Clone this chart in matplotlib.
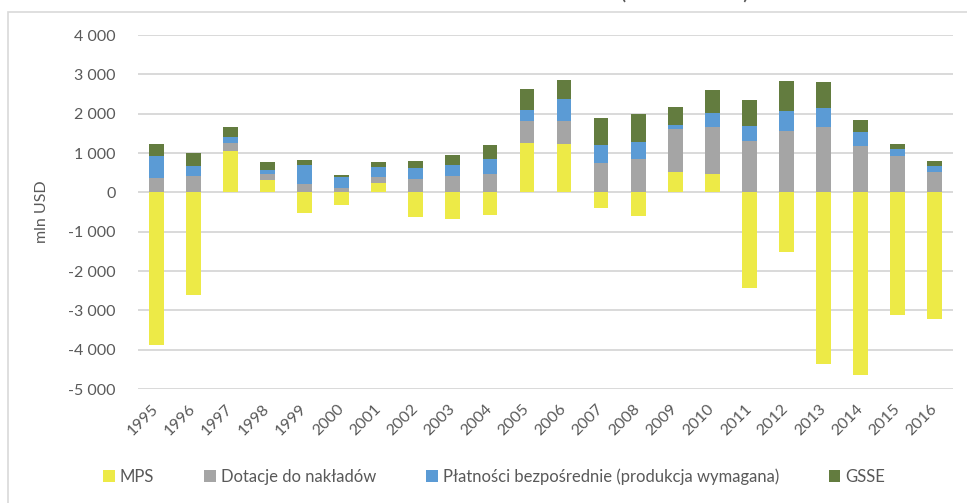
import matplotlib
matplotlib.use("Agg")
from matplotlib import pyplot as plt
from matplotlib.ticker import FuncFormatter
from matplotlib.patches import Rectangle
import numpy as np

plt.rcParams['font.family'] = ['Lato', 'DejaVu Sans']

years = [str(y) for y in range(1995, 2017)]
mps = [-3870, -2620, 1040, 320, -535, -320, 245, -620, -670, -575, 1265,
       1240, -390, -610, 505, 465, -2440, -1525, -4365, -4655, -3130, -3215]
dotacje = [370, 413, 220, 152, 211, 118, 152, 346, 422, 468, 540,
           565, 750, 842, 1096, 1197, 1297, 1567, 1651, 1188, 927, 514]
platnosci = [550, 245, 144, 92, 481, 262, 253, 278, 270, 380, 278,
             556, 463, 430, 101, 345, 396, 489, 506, 354, 185, 160]
gsse = [304, 346, 261, 220, 143, 59, 126, 178, 270, 358, 556,
        505, 666, 716, 480, 607, 666, 775, 657, 286, 110, 118]

series = [("MPS", mps, '#EDEA47'),
          ("Dotacje do nakładów", dotacje, '#A5A5A5'),
          ("Płatności bezpośrednie (produkcja wymagana)", platnosci, '#5B9BD5'),
          ("GSSE", gsse, '#637C3F')]

txt = '#595959'
fig = plt.figure(figsize=(9.67, 5.03), dpi=100)
ax = fig.add_axes([0.1427, 0.2266, 0.8428, 0.7038])

x = np.arange(len(years))
pos = np.zeros(len(years))
neg = np.zeros(len(years))
for name, vals, col in series:
    v = np.array(vals, dtype=float)
    bottom = np.where(v >= 0, pos, neg)
    ax.bar(x, v, 0.4, bottom=bottom, color=col, label=name, zorder=3)
    pos = pos + np.where(v >= 0, v, 0)
    neg = neg + np.where(v < 0, v, 0)

ax.set_xlim(-0.5, len(years) - 0.5)
ax.set_ylim(-5000, 4000)
ax.set_yticks(range(-5000, 4001, 1000))
ax.yaxis.set_major_formatter(FuncFormatter(lambda v, p: f"{int(v):,}".replace(",", " ")))
ax.grid(axis='y', color='#D9D9D9', lw=1.4, zorder=0)
for s in ax.spines.values():
    s.set_visible(False)
ax.tick_params(axis='both', length=0, colors=txt, labelsize=11.5)
ax.tick_params(axis='y', pad=16)
ax.set_xticks(x)
ax.set_xticklabels(years, rotation=45, ha='right', va='center', rotation_mode='anchor', fontsize=11.5)
ax.tick_params(axis='x', pad=13)
ax.set_ylabel("mln USD", color=txt, fontsize=11.5, labelpad=14)

fig.legend(loc='center', bbox_to_anchor=(0.511, 0.052), ncol=4, frameon=False,
           handlelength=0.7, handleheight=0.7, handletextpad=0.3, columnspacing=3.0,
           fontsize=12, labelcolor=txt)

fig.patches.append(Rectangle((8 / 967, -0.01), 1.0, 1 - 12 / 503 + 0.01,
                             transform=fig.transFigure, fill=False,
                             edgecolor='#D9D9D9', lw=1.2))
fig.text(0.708, 1.002, "(w mln USD)", ha='center', va='baseline', fontsize=17, color=txt)

fig.savefig("out.png", dpi=100)
